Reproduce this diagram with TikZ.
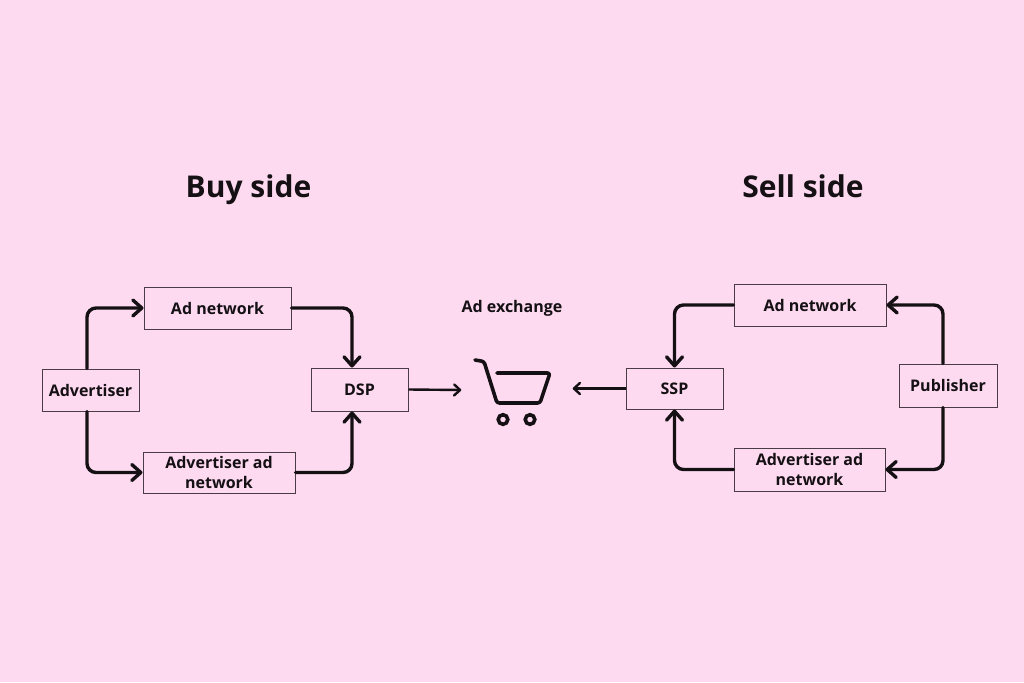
\documentclass[tikz,border=0pt]{standalone}
\usepackage{fontspec}
\setmainfont{Open Sans}
\usetikzlibrary{arrows.meta}
\definecolor{bgpink}{HTML}{FDDAF0}
\definecolor{ink}{HTML}{141014}
\definecolor{boxline}{HTML}{4A3C46}
\tikzset{
  boxnode/.style={draw=boxline, line width=1pt, fill=bgpink, text=ink,
    font=\fontsize{16}{20.5}\selectfont\bfseries, align=center, inner sep=0pt},
  flow/.style={draw=ink, line width=3.4pt, rounded corners=9pt, line cap=round,
    -{Straight Barb[length=9pt 0, width=16pt 0, line cap=round, line join=round]}},
  thinflow/.style={draw=ink, line width=2.4pt,
    -{Straight Barb[length=6pt 0, width=11pt 0, line cap=round, line join=round]}},
  title/.style={text=ink, font=\fontsize{30}{34}\selectfont\bfseries, anchor=base},
}
\begin{document}
\begin{tikzpicture}[x=1pt, y=-1pt]
\fill[bgpink] (0,0) rectangle (1024,682);
\useasboundingbox (0,0) rectangle (1024,682);

% titles
\node[title] (buy) at (248.5,197.5) {Buy side};
\node[title] (sell) at (803,197.5) {Sell side};
\node[text=ink, font=\fontsize{16}{20}\selectfont\bfseries, anchor=base] (adx) at (512,312.5) {Ad exchange};

% buy side
\node[boxnode, minimum width=97, minimum height=42] (adv) at (90.5,390) {Advertiser};
\node[boxnode, minimum width=147, minimum height=42] (an1) at (217.5,308) {Ad network};
\node[boxnode, minimum width=97, minimum height=43] (dsp) at (359.5,389.5) {DSP};
\node[boxnode, minimum width=152, minimum height=41] (aan1) at (219,472.5) {Advertiser ad\\network};

% sell side
\node[boxnode, minimum width=97, minimum height=41] (ssp) at (674.5,388.5) {SSP};
\node[boxnode, minimum width=152, minimum height=42] (an2) at (810,305) {Ad network};
\node[boxnode, minimum width=98, minimum height=43] (pub) at (948,385.5) {Publisher};
\node[boxnode, minimum width=151, minimum height=43] (aan2) at (809.5,469.5) {Advertiser ad\\network};

% cart area
\node[minimum width=111, minimum height=70, inner sep=0pt] (cart) at (517,390) {};
\draw[ink, line width=3.6pt, line cap=round, line join=round, rounded corners=2.5pt]
  (475,360) -- (484,361.5) -- (497,403) -- (540,403) -- (550,373) -- (497,373);
\draw[ink, line width=3.6pt] (503,419.5) circle (4.8) (530,419.5) circle (4.8);

% buy side connectors
\draw[flow] ([xshift=-3.5pt]adv.north) |- (an1.west);
\draw[flow] (an1.east) -| ([xshift=-7.5pt]dsp.north);
\draw[flow] ([xshift=-3.5pt]adv.south) |- (aan1.west);
\draw[flow] (aan1.east) -| ([xshift=-7.5pt]dsp.south);
\draw[thinflow] (dsp.east) -- (cart.west);

% sell side connectors
\draw[flow] ([xshift=-5pt]pub.north) |- (an2.east);
\draw[flow] (an2.west) -| (ssp.north);
\draw[flow] ([xshift=-5pt]pub.south) |- (aan2.east);
\draw[flow] (aan2.west) -| (ssp.south);
\draw[thinflow] (ssp.west) -- (ssp.west -| cart.east);
\end{tikzpicture}
\end{document}
